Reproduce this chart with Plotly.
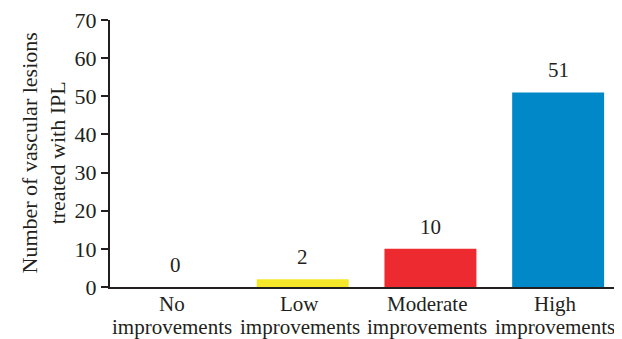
import plotly.graph_objects as go

categories = ["No improvements", "Low improvements", "Moderate improvements", "High improvements"]
tick_line1 = ["No", "Low", "Moderate", "High"]
tick_line2 = ["improvements", "improvements", "improvements", "improvements"]
values = [0, 2, 10, 51]
colors = ["#FFFFFF", "#F5E82A", "#EC2A2F", "#0088C9"]
y_ticks = [0, 10, 20, 30, 40, 50, 60, 70]
y_title = "Number of vascular lesions<br>treated with IPL"

font_family = "Liberation Serif, Times New Roman, serif"
ink = "#231F20"

fig = go.Figure()
fig.add_trace(go.Bar(
    x=categories, y=values, marker=dict(color=colors, line=dict(width=0)),
    showlegend=False, hoverinfo="skip",
))

# value labels above bars
for c, v in zip(categories, values):
    fig.add_annotation(x=c, y=v, text=str(v), showarrow=False,
                       yanchor="bottom", yshift=8,
                       font=dict(family=font_family, size=21, color=ink))

# two-line category labels
for c, t1, t2 in zip(categories, tick_line1, tick_line2):
    fig.add_annotation(x=c, xref="x", y=0, yref="paper", text=t1, showarrow=False,
                       yanchor="top", yshift=-3, xshift=-3,
                       font=dict(family=font_family, size=21, color=ink))
    fig.add_annotation(x=c, xref="x", y=0, yref="paper", text=t2, showarrow=False,
                       yanchor="top", yshift=-26, xshift=-3,
                       font=dict(family=font_family, size=21, color=ink))

fig.add_annotation(x=0, xref="paper", y=0.5, yref="paper", text=y_title,
                   showarrow=False, textangle=-90, xanchor="center", yanchor="middle",
                   xshift=-67, font=dict(family=font_family, size=22, color=ink))

# page body has an 8px margin, so the figure is sized/offset to fit the window
fig.update_layout(
    width=614, height=331,
    margin=dict(l=102, r=0, t=12, b=52),
    paper_bgcolor="white", plot_bgcolor="white",
    bargap=0.28,
    font=dict(family=font_family, size=22, color=ink),
    xaxis=dict(
        showline=True, linecolor=ink, linewidth=2, automargin=False,
        ticks="", showticklabels=False, showgrid=False,
    ),
    yaxis=dict(
        range=[0, 70], tickvals=y_ticks, showline=True, linecolor=ink, linewidth=2,
        ticks="outside", ticklen=7, tickwidth=2, tickcolor=ink, showgrid=False,
        zeroline=False, automargin=False, ticklabeloverflow="allow",
        tickfont=dict(family=font_family, size=22, color=ink),
    ),
)

fig.write_html("out.html")
